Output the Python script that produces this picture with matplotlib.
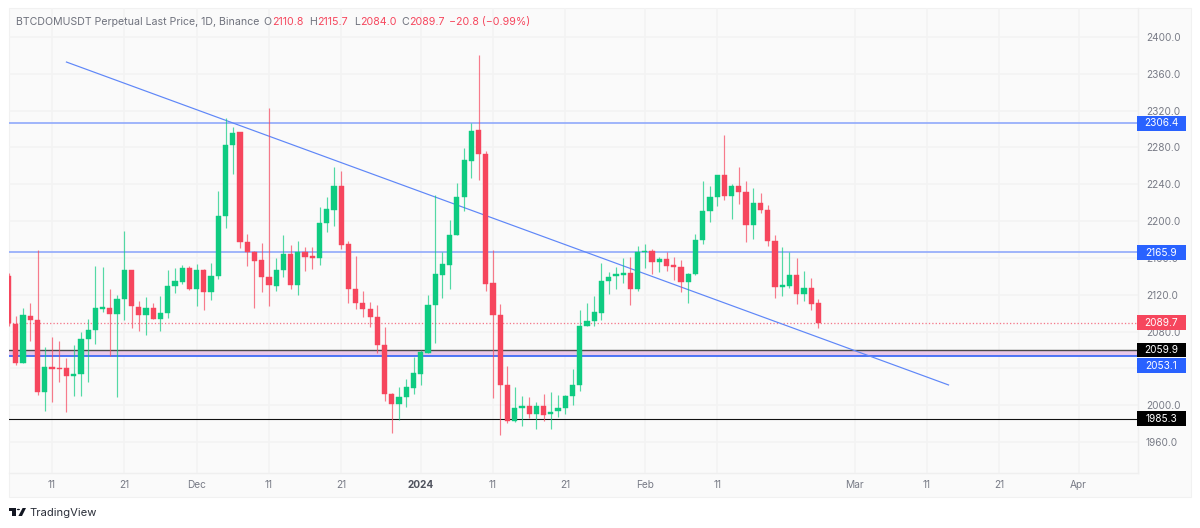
import matplotlib
matplotlib.use("Agg")
import matplotlib.pyplot as plt
import matplotlib.dates as mdates
import pandas as pd
from matplotlib.patches import Polygon, Rectangle, Circle

W, H = 1200, 528

first_day = "2023-11-05"

opens = [2140.4, 2088.2, 2046.2, 2096.9, 2092.6, 2014.3, 2041.5, 2040.4, 2040.1, 2031.4,
         2033.5, 2071.9, 2081.7, 2104.9, 2106.0, 2099.4, 2115.0, 2146.9, 2107.0, 2098.3,
         2105.2, 2094.0, 2100.2, 2129.9, 2133.8, 2149.0, 2126.2, 2147.2, 2123.0, 2140.4,
         2205.9, 2283.0, 2296.5, 2176.9, 2166.4, 2157.7, 2139.3, 2129.9, 2146.9, 2164.6,
         2130.6, 2166.5, 2162.1, 2160.3, 2198.3, 2212.1, 2238.2, 2174.8, 2126.7, 2111.4,
         2104.2, 2096.2, 2065.4, 2012.2, 2001.7, 2008.6, 2018.7, 2034.3, 2057.1, 2108.5,
         2141.5, 2152.4, 2184.9, 2225.8, 2265.7, 2299.0, 2273.3, 2132.4, 2098.0, 2022.0,
         1983.2, 1996.6, 1999.6, 1990.8, 1999.6, 1990.5, 1993.4, 1996.6, 2009.7, 2021.6,
         2086.4, 2091.8, 2100.5, 2134.5, 2140.0, 2141.8, 2143.2, 2125.9, 2166.4, 2167.1,
         2155.5, 2158.4, 2151.9, 2150.5, 2133.8, 2142.1, 2179.4, 2211.3, 2226.5, 2250.1,
         2226.9, 2238.1, 2231.9, 2195.4, 2219.3, 2211.7, 2178.7, 2128.0, 2129.5, 2141.8,
         2120.8, 2126.9, 2110.8]
highs = [2143.2, 2096.9, 2105.2, 2110.7, 2168.6, 2062.9, 2074.5, 2069.7, 2050.9, 2065.4,
         2079.9, 2093.3, 2150.9, 2149.8, 2125.9, 2120.1, 2189.6, 2146.9, 2113.6, 2117.9,
         2110.7, 2119.0, 2146.5, 2148.7, 2151.9, 2151.2, 2153.0, 2148.3, 2154.8, 2233.0,
         2312.3, 2302.6, 2297.1, 2185.6, 2167.5, 2175.8, 2322.5, 2159.9, 2184.9, 2174.4,
         2178.0, 2172.3, 2172.3, 2215.0, 2226.6, 2259.2, 2254.1, 2178.1, 2162.1, 2124.1,
         2112.1, 2108.9, 2085.4, 2013.0, 2019.4, 2028.1, 2052.8, 2060.0, 2119.7, 2228.0,
         2166.5, 2201.2, 2241.0, 2279.1, 2306.9, 2380.4, 2276.2, 2168.6, 2109.6, 2042.6,
         2020.2, 2010.0, 2009.3, 2003.5, 2011.9, 2014.0, 2011.1, 2010.8, 2039.0, 2103.4,
         2111.4, 2119.0, 2154.1, 2144.3, 2149.8, 2159.9, 2161.3, 2172.9, 2175.1, 2169.3,
         2160.6, 2166.0, 2161.0, 2157.7, 2143.2, 2186.0, 2243.2, 2238.1, 2250.1, 2293.5,
         2240.3, 2258.7, 2243.9, 2236.3, 2230.1, 2217.1, 2184.5, 2171.8, 2166.0, 2159.5,
         2145.8, 2137.8, 2115.7]
lows = [2086.0, 2043.3, 2046.2, 2070.1, 2011.1, 1994.1, 2003.5, 2024.8, 1992.3, 2010.0,
        2010.4, 2025.6, 2066.5, 2101.2, 2053.5, 2008.5, 2092.6, 2084.2, 2080.2, 2075.9,
        2093.3, 2081.0, 2094.7, 2122.2, 2131.7, 2125.5, 2107.8, 2103.4, 2114.3, 2137.5,
        2192.1, 2251.2, 2171.1, 2151.6, 2105.6, 2123.3, 2107.8, 2124.1, 2139.6, 2125.9,
        2119.7, 2145.5, 2148.4, 2152.4, 2187.8, 2194.7, 2169.4, 2110.7, 2104.6, 2096.2,
        2085.4, 2057.1, 2004.6, 1970.2, 1984.0, 1998.1, 2011.9, 2022.0, 2056.4, 2068.0,
        2116.8, 2125.9, 2184.9, 2210.6, 2246.5, 2244.7, 2124.1, 2008.2, 1968.0, 1981.0,
        1982.1, 1977.4, 1985.8, 1974.2, 1983.2, 1974.2, 1987.6, 1990.5, 2000.6, 2015.8,
        2086.0, 2086.4, 2092.5, 2120.4, 2126.6, 2133.1, 2109.2, 2124.4, 2149.0, 2142.9,
        2144.7, 2145.8, 2136.0, 2123.3, 2111.4, 2141.8, 2175.1, 2199.0, 2216.4, 2222.9,
        2201.9, 2218.6, 2177.3, 2180.5, 2208.8, 2173.3, 2116.8, 2119.0, 2127.7, 2110.3,
        2113.2, 2103.0, 2084.0]
closes = [2089.7, 2045.5, 2097.6, 2092.6, 2014.7, 2041.5, 2039.3, 2039.0, 2031.4, 2033.9,
          2071.9, 2081.7, 2105.2, 2106.7, 2099.4, 2115.0, 2146.9, 2107.8, 2098.3, 2105.2,
          2094.0, 2100.2, 2129.1, 2134.6, 2149.0, 2126.2, 2146.9, 2123.0, 2140.4, 2205.5,
          2283.0, 2296.0, 2177.6, 2166.4, 2157.0, 2139.3, 2130.6, 2146.5, 2164.6, 2130.9,
          2166.8, 2161.0, 2160.3, 2198.3, 2212.8, 2238.2, 2174.4, 2125.9, 2110.7, 2104.2,
          2095.9, 2065.8, 2011.9, 2001.7, 2008.6, 2019.4, 2034.7, 2057.8, 2108.5, 2142.2,
          2153.0, 2185.3, 2225.8, 2266.0, 2298.3, 2272.9, 2132.0, 2098.0, 2022.0, 1983.2,
          1996.6, 1999.6, 1990.8, 1999.6, 1989.7, 1993.0, 1996.6, 2009.7, 2021.6, 2086.4,
          2091.8, 2100.9, 2134.5, 2139.6, 2142.5, 2143.2, 2126.2, 2166.8, 2167.5, 2155.2,
          2158.4, 2151.6, 2150.5, 2133.8, 2142.5, 2179.8, 2211.3, 2226.5, 2250.1, 2226.9,
          2238.1, 2231.6, 2195.4, 2219.3, 2211.7, 2178.7, 2128.0, 2130.2, 2141.8, 2120.8,
          2126.9, 2110.3, 2089.7]

price_ticks = [1960, 2000, 2040, 2080, 2120, 2160, 2200, 2240, 2280, 2320, 2360, 2400]
date_ticks = ["2023-11-11", "2023-11-21", "2023-12-01", "2023-12-11", "2023-12-21",
              "2024-01-01", "2024-01-11", "2024-01-21", "2024-02-01", "2024-02-11",
              "2024-03-01", "2024-03-11", "2024-03-21", "2024-04-01"]
date_labels = ["11", "21", "Dec", "11", "21", "2024", "11", "21", "Feb", "11",
               "Mar", "11", "21", "Apr"]

blue_levels = [2306.4, 2165.9]
support_black = 2059.9
support_blue = 2053.1
floor_black = 1985.3
last_price = 2089.7
trend_dates = ["2023-11-13", "2024-03-14"]
trend_prices = [2372.8, 2022.0]

GREEN = "#0ECB81"
RED = "#F6465D"
GRID = "#F3F3F3"
BG = "#FAFAFA"
TEXT = "#787B86"
BLUE = "#2962FF"

plt.rcParams["font.family"] = ["Inter", "DejaVu Sans"]


def fx(px):
    return px / W


def fy(py):
    return 1 - py / H


def pt(px):
    return px * 72 / 100


def box(fig, x0, y0, x1, y1, **kw):
    fig.add_artist(Rectangle((fx(x0), fy(y1)), fx(x1 - x0), (y1 - y0) / H,
                             transform=fig.transFigure, **kw))


def label(fig, px, py, s, color, size=10.6, **kw):
    fig.text(fx(px), fy(py), s, color=color, fontsize=pt(size), va="center", zorder=8, **kw)


fig = plt.figure(figsize=(W / 100, H / 100), dpi=100, facecolor="white")

# chart frame behind the pane, the price scale and the time scale
box(fig, 8.5, 8, 1191, 497, facecolor=BG, edgecolor="#F1F1F1", linewidth=0.8, zorder=-2)

left, right, top, bottom = 8.5, 1137.5, 8.3, 473
ax = fig.add_axes([fx(left), fy(bottom), fx(right - left), (bottom - top) / H])
ax.set_facecolor(BG)
ax.patch.set_alpha(0)

days = pd.date_range(first_day, periods=len(opens), freq="D")
x = mdates.date2num(days)
x0 = x[0] + 6
ax.set_xlim(x0 + (left - 52) / 7.23, x0 + (right - 52) / 7.23)
ax.set_ylim(2400 - (bottom - 37) / 0.9205, 2400 + (37 - top) / 0.9205)

ax.set_yticks(price_ticks)
ax.set_yticklabels([f"{p:.1f}" for p in price_ticks])
ax.set_xticks(mdates.date2num(pd.to_datetime(date_ticks)))
ax.set_xticklabels(date_labels)
ax.yaxis.tick_right()
ax.tick_params(axis="y", length=0, pad=pt(8.5), labelsize=pt(10.1), labelcolor=TEXT)
ax.tick_params(axis="x", length=0, pad=pt(6.5), labelsize=pt(10.1), labelcolor=TEXT)
for tick, text in zip(ax.get_xticklabels(), date_labels):
    if text == "2024":
        tick.set_fontweight("bold")
        tick.set_color("#50535E")
ax.grid(True, color=GRID, linewidth=1.1, zorder=0)
ax.set_axisbelow(True)
for side in ["top", "left"]:
    ax.spines[side].set_visible(False)
for side in ["right", "bottom"]:
    ax.spines[side].set_color("#EFEFEF")
    ax.spines[side].set_linewidth(1.0)

# levels and the falling trend line
ax.axhspan(support_blue, support_black, color="#E9C8EA", linewidth=0, zorder=1)
for level in blue_levels:
    ax.axhline(level, color="#97AFFB", linewidth=pt(1.8), zorder=1.2)
ax.axhline(support_black, color="#4A4A4A", linewidth=pt(1.4), zorder=1.2)
ax.axhline(support_blue, color="#3F6BF6", linewidth=pt(1.8), zorder=1.2)
ax.axhline(floor_black, color="#111111", linewidth=pt(1.1), zorder=1.2)
ax.axhline(last_price, color="#F4788A", linewidth=pt(1.3), linestyle=(0, (1, 1.6)), zorder=1.2)
ax.plot(mdates.date2num(pd.to_datetime(trend_dates)), trend_prices, color="#5F87F8",
        linewidth=pt(1.2), zorder=1.3)

# candles
colors = [GREEN if c >= o else RED for o, c in zip(opens, closes)]
ax.vlines(x, lows, highs, colors=colors, linewidth=pt(1.2), alpha=0.7, zorder=2)
body_low = [min(o, c) for o, c in zip(opens, closes)]
body_h = [abs(c - o) for o, c in zip(opens, closes)]
ax.bar(x, body_h, width=0.72, bottom=body_low, color=colors, edgecolor=colors,
       linewidth=0.3, zorder=3)

# header legend
header_y = 22.3
label(fig, 16, header_y, "BTCDOMUSDT Perpetual Last Price, 1D, Binance", "#6F727D")
label(fig, 263, header_y, "O", "#6F727D")
label(fig, 272, header_y, "2110.8", RED)
label(fig, 309, header_y, "H", "#6F727D")
label(fig, 317, header_y, "2115.7", RED)
label(fig, 354, header_y, "L", "#6F727D")
label(fig, 360, header_y, "2084.0", RED)
label(fig, 401.5, header_y, "C", "#6F727D")
label(fig, 409, header_y, "2089.7", RED)
label(fig, 449, header_y, "\u221220.8 (\u22120.99%)", RED)

# price tags on the scale, the blue support tag is pushed below the black one
tag_values = [2306.4, 2165.9, 2089.7, 2059.9, 2053.1, 1985.3]
tag_colors = [BLUE, BLUE, RED, "#000000", BLUE, "#000000"]
tag_shift = [0, 0, 0, 0, 9.3, 0]
for value, color, shift in zip(tag_values, tag_colors, tag_shift):
    yc = 37 + (2400 - value) * 0.9205 + shift
    box(fig, 1137, yc - 7.4, 1186, yc + 7.4, facecolor=color, edgecolor="none", zorder=6)
    label(fig, 1161.5, yc + 0.2, f"{value:.1f}", "white", size=10.1, ha="center")

# TradingView logo
logo = "#131722"
box(fig, 8.5, 508, 15.8, 511, facecolor=logo, edgecolor="none", zorder=6)
box(fig, 12.4, 508, 15.8, 516, facecolor=logo, edgecolor="none", zorder=6)
fig.add_artist(Circle((fx(18.4), fy(509.5)), 1.6 / W, transform=fig.transFigure,
                      facecolor=logo, edgecolor="none", zorder=6))
fig.add_artist(Polygon([(fx(22.6), fy(508)), (fx(26), fy(508)), (fx(22), fy(516)), (fx(18.4), fy(516))],
                       closed=True, transform=fig.transFigure, facecolor=logo, edgecolor="none", zorder=6))
label(fig, 29.5, 512.5, "TradingView", "#2A2E39", size=11.2)

fig.savefig("out.png", dpi=100)
